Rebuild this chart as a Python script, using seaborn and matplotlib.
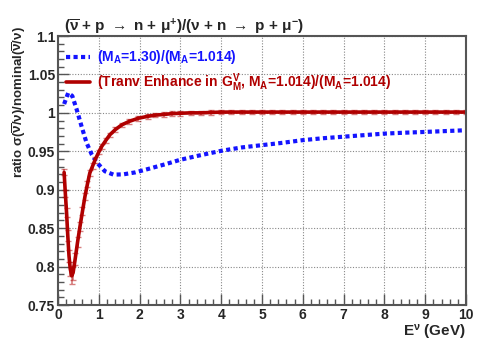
import numpy as np
import pandas as pd
import matplotlib
matplotlib.use("Agg")
import matplotlib.pyplot as plt
import seaborn as sns
from matplotlib.ticker import MultipleLocator

# ---- data ----
blue_x = [0.15, 0.25, 0.35, 0.46, 0.58, 0.70, 0.83, 0.95, 1.15, 1.36, 1.6, 1.89, 2.21, 2.62,
          3.0, 3.5, 4.0, 4.5, 5.0, 5.5, 6.0, 6.5, 7.0, 7.5, 8.0, 8.5, 9.0, 9.5, 10.0]
blue_y = [1.0115, 1.026, 1.022, 1.004, 0.982, 0.961, 0.9455, 0.9355, 0.924, 0.9196, 0.920, 0.9225,
          0.927, 0.933, 0.939, 0.945, 0.9506, 0.955, 0.958, 0.961, 0.9645, 0.967, 0.969, 0.971,
          0.973, 0.9742, 0.9752, 0.9763, 0.9774]

red_x = [0.15, 0.18, 0.21, 0.24, 0.27, 0.30, 0.335, 0.37, 0.42, 0.48, 0.54, 0.60, 0.66, 0.72,
         0.78, 0.85, 0.91, 1.0, 1.07, 1.17, 1.27, 1.4, 1.56, 1.75, 1.97, 2.2, 2.38, 2.6, 2.8,
         3.0, 3.25, 3.5, 3.75, 4.0, 4.25, 4.5, 4.75, 5.0, 5.25, 5.5, 5.75, 6.0, 6.25, 6.5,
         6.75, 7.0, 7.25, 7.5, 7.75, 8.0, 8.25, 8.5, 8.75, 9.0, 9.25, 9.5, 9.75, 10.0]
red_y = [0.9225, 0.895, 0.870, 0.840, 0.8137, 0.797, 0.788, 0.792, 0.8095, 0.832, 0.8526,
         0.872, 0.891, 0.907, 0.9218, 0.931, 0.939, 0.949, 0.9562, 0.964, 0.9714, 0.978,
         0.9843, 0.989, 0.993, 0.9955, 0.997, 0.998, 0.999, 0.9995, 1.000, 1.000, 1.0005,
         1.001, 1.001, 1.001, 1.001, 1.001, 1.001, 1.001, 1.001, 1.001, 1.001, 1.001,
         1.001, 1.001, 1.001, 1.001, 1.001, 1.001, 1.001, 1.001, 1.001, 1.001, 1.001,
         1.001, 1.001, 1.001]
red_err = [0.004, 0.005, 0.006, 0.007, 0.008, 0.009, 0.011, 0.009, 0.008, 0.007, 0.006,
           0.005, 0.005, 0.004, 0.004, 0.004, 0.004, 0.003, 0.003, 0.003, 0.003, 0.003,
           0.003, 0.003, 0.003, 0.003, 0.003, 0.003, 0.003, 0.003, 0.003, 0.003, 0.003,
           0.003, 0.003, 0.003, 0.003, 0.003, 0.003, 0.003, 0.003, 0.003, 0.003, 0.003,
           0.003, 0.003, 0.003, 0.003, 0.003, 0.003, 0.003, 0.003, 0.003, 0.003, 0.003,
           0.003, 0.003, 0.003]

blue_label = r"(M$_\mathbf{A}$=1.30)/(M$_\mathbf{A}$=1.014)"
red_label = r"(Tranv Enhance in G$_\mathbf{M}^\mathbf{V}$, M$_\mathbf{A}$=1.014)/(M$_\mathbf{A}$=1.014)"
title = r"($\overline{\nu}$ + p $\rightarrow$ n + $\mu^{+}$)/($\nu$ + n $\rightarrow$ p + $\mu^{-}$)"
ylabel = r"ratio $\sigma(\overline{\nu}/\nu)$/nominal($\overline{\nu}/\nu$)"
xlabel = r"E$^{\nu}$ (GeV)"

BLUE = "#1414ff"
RED = "#b00000"

sns.set_theme(style="white")
plt.rcParams["font.family"] = ["Liberation Sans", "DejaVu Sans"]
plt.rcParams["font.weight"] = "bold"
plt.rcParams["mathtext.fontset"] = "custom"
plt.rcParams["mathtext.rm"] = "Liberation Sans:bold"
plt.rcParams["mathtext.bf"] = "Liberation Sans:bold"
plt.rcParams["mathtext.it"] = "Liberation Sans:bold"
plt.rcParams["mathtext.sf"] = "Liberation Sans:bold"
plt.rcParams["mathtext.default"] = "bf"

fig = plt.figure(figsize=(4.85, 3.6), dpi=100)
ax = fig.add_axes([58 / 485, 1 - 305 / 360, 408 / 485, 269 / 360])

blue_df = pd.DataFrame({"x": blue_x, "y": blue_y})
red_df = pd.DataFrame({"x": red_x, "y": red_y})

sns.lineplot(data=blue_df, x="x", y="y", ax=ax, color=BLUE, lw=3,
             linestyle=(0, (1, 0.8)), sort=False, estimator=None, label=blue_label)
ax.errorbar(red_x, red_y, yerr=red_err, fmt="none", ecolor=RED, elinewidth=1.2,
            capsize=2.5, capthick=1, alpha=0.5)
sns.lineplot(data=red_df, x="x", y="y", ax=ax, color=RED, lw=2.6,
             sort=False, estimator=None, label=red_label)

ax.set_xlim(0, 10)
ax.set_ylim(0.75, 1.1)
ax.xaxis.set_major_locator(MultipleLocator(1))
ax.xaxis.set_minor_locator(MultipleLocator(0.2))
ax.yaxis.set_minor_locator(MultipleLocator(0.01))
ax.set_yticks([0.75, 0.8, 0.85, 0.9, 0.95, 1.0, 1.05, 1.1])
ax.set_yticklabels(["0.75", "0.8", "0.85", "0.9", "0.95", "1", "1.05", "1.1"])

ax.tick_params(axis="both", which="major", direction="in", length=8, width=1,
               color="#555555", labelsize=10, pad=2, bottom=True, left=True)
ax.tick_params(axis="both", which="minor", direction="in", length=4, width=1,
               color="#555555", bottom=True, left=True)
for lab in ax.get_xticklabels() + ax.get_yticklabels():
    lab.set_fontweight("bold")

ax.grid(True, which="major", linestyle=(0, (1, 1.5)), color="#888888", lw=0.8)
for s in ax.spines.values():
    s.set_color("#555555")
    s.set_linewidth(1.5)

ax.set_xlabel("")
ax.set_ylabel("")
fig.text(466 / 485, 1 - 332 / 360, xlabel, ha="right", va="center",
         fontsize=11, fontweight="bold")
fig.text(19 / 485, 1 - 26 / 360, ylabel, ha="center", va="top",
         rotation=90, fontsize=9.5, fontweight="bold")
fig.text(64 / 485, 1 - 27 / 360, title, ha="left", va="center",
         fontsize=11, fontweight="bold")

leg = ax.legend(loc="upper left", bbox_to_anchor=(0.0, 0.985), frameon=False,
                handlelength=1.7, handletextpad=0.5, labelspacing=0.35,
                borderaxespad=0.2, fontsize=10)
for txt, c in zip(leg.get_texts(), [BLUE, RED]):
    txt.set_color(c)
    txt.set_fontweight("bold")

fig.savefig("out.png", dpi=100)
